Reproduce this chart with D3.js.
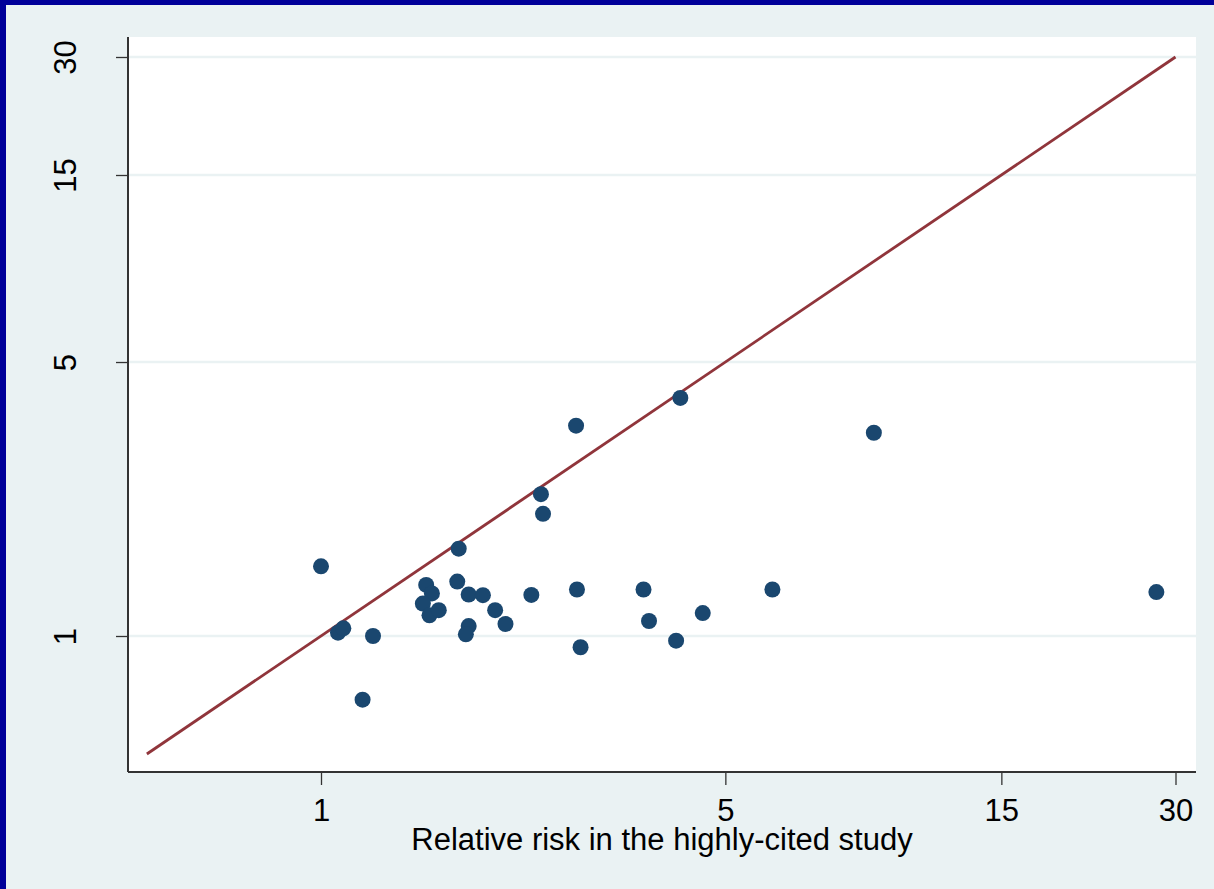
<!DOCTYPE html>
<html lang="en">
  <head>
    <meta charset="UTF-8" />
    <title>relative risk scatter</title>
    <script src="https://cdn.jsdelivr.net/npm/d3@7"></script>
    <style>
      body { margin: 0; background: #eaf2f3; }
      svg { display: block; font-family: "Liberation Sans", Arial, sans-serif; }
    </style>
  </head>
  <body>
    <svg id="fig" width="1214" height="889"></svg>
    <script>
      // relative risk: highly-cited study (x) vs later studies (y)
      let rrCited = [1.0, 2.76, 2.40, 2.42, 1.73, 1.52, 1.555, 1.50, 1.54, 1.598,
        1.72, 1.80, 1.905, 2.00, 2.084, 1.80, 1.78, 1.07, 1.093, 1.23, 1.18,
        2.31, 2.77, 2.81, 4.18, 9.03, 3.61, 3.69, 4.57, 4.11, 6.03, 27.8];
      let rrLater = [1.506, 3.44, 2.30, 2.05, 1.67, 1.35, 1.284, 1.21, 1.129, 1.164,
        1.377, 1.276, 1.271, 1.164, 1.073, 1.06, 1.01, 1.02, 1.046, 1.0, 0.688,
        1.273, 1.314, 0.936, 4.05, 3.30, 1.314, 1.092, 1.144, 0.973, 1.314, 1.294];
      let tickVals = [1, 5, 15, 30];
      let lineEnds = [0.5, 30];
      let xTitle = "Relative risk in the highly-cited study";

      const svg = d3.select("#fig");

      // frame
      svg.append("rect").attr("width", 1214).attr("height", 889).attr("fill", "#000099");
      svg.append("rect").attr("x", 6).attr("y", 5).attr("width", 1208).attr("height", 884).attr("fill", "#eaf2f3");

      const plot = { left: 128, top: 37, right: 1196, bottom: 772 };
      svg.append("rect")
        .attr("x", plot.left).attr("y", plot.top)
        .attr("width", plot.right - plot.left).attr("height", plot.bottom - plot.top)
        .attr("fill", "#ffffff");

      let x = d3.scaleLog().domain([1, 30]).range([321, 1175.5]);
      let y = d3.scaleLog().domain([1, 30]).range([636, 57]);

      // gridlines
      svg.append("g").selectAll("line").data(tickVals).join("line")
        .attr("x1", plot.left).attr("x2", plot.right)
        .attr("y1", d => y(d)).attr("y2", d => y(d))
        .attr("stroke", "#eaf2f3").attr("stroke-width", 2.5);

      // y axis
      let yAxis = svg.append("g").attr("transform", `translate(${plot.left},0)`)
        .call(d3.axisLeft(y).tickValues(tickVals).tickFormat(d3.format("d")).tickSize(12).tickSizeOuter(0));
      yAxis.select(".domain").attr("d", `M0,${plot.top}V${plot.bottom}`);
      yAxis.selectAll("text")
        .attr("x", 0).attr("dy", 0)
        .attr("transform", "translate(-52,0) rotate(-90)")
        .attr("text-anchor", "middle");

      // x axis
      let xAxis = svg.append("g").attr("transform", `translate(0,${plot.bottom})`)
        .call(d3.axisBottom(x).tickValues(tickVals).tickFormat(d3.format("d")).tickSize(13).tickSizeOuter(0));
      xAxis.select(".domain").attr("d", `M${plot.left},0H${plot.right}`);
      xAxis.selectAll("text").attr("y", 49).attr("dy", 0);

      [yAxis, xAxis].forEach(a => {
        a.select(".domain").attr("stroke", "#333333").attr("stroke-width", 2);
        a.selectAll(".tick line").attr("stroke", "#333333").attr("stroke-width", 1.3);
        a.selectAll("text").attr("font-size", 31).attr("fill", "#000").attr("font-family", "Liberation Sans, Arial, sans-serif");
      });

      svg.append("text")
        .attr("x", 662).attr("y", 850)
        .attr("text-anchor", "middle")
        .attr("font-size", 31)
        .text(xTitle);

      // equality line
      svg.append("line")
        .attr("x1", x(lineEnds[0])).attr("y1", y(lineEnds[0]))
        .attr("x2", x(lineEnds[1])).attr("y2", y(lineEnds[1]))
        .attr("stroke", "#90353b").attr("stroke-width", 2.8);

      // points
      svg.append("g").selectAll("circle").data(rrCited).join("circle")
        .attr("cx", d => x(d))
        .attr("cy", (d, i) => y(rrLater[i]))
        .attr("r", 8)
        .attr("fill", "#1a476f");
    </script>
  </body>
</html>
